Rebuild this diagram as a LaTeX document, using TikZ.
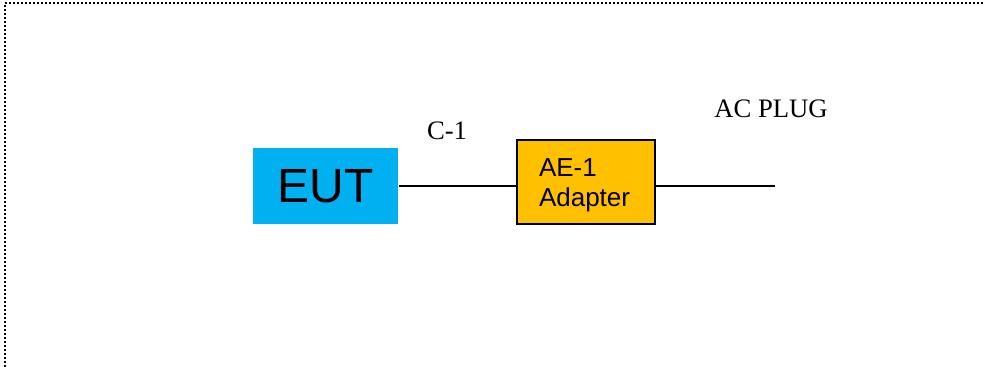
\documentclass[tikz,border=0pt]{standalone}
\usepackage{fontspec}
\setmainfont{Liberation Serif}
\setsansfont{Liberation Sans}
\usepackage{xcolor}
\usetikzlibrary{positioning, calc}
\definecolor{eutblue}{HTML}{00B0F0}
\definecolor{aegold}{HTML}{FFC000}

\begin{document}
\begin{tikzpicture}[
    x=0.75pt, y=-0.75pt,
    line width=1.1pt,
    box/.style={
        rectangle, inner sep=0pt,
        font=\sffamily
    },
    eutbox/.style={box, fill=eutblue, minimum width=108.75pt, minimum height=56.25pt,
        font=\sffamily\fontsize{36}{40}\selectfont},
    aebox/.style={box, fill=aegold, draw=black, line width=1pt,
        minimum width=103.5pt, minimum height=63pt,
        text width=70.5pt, inner xsep=16.5pt, align=left,
        font=\sffamily\fontsize{19.5}{22.5}\selectfont},
    cable/.style={line width=1.1pt},
    lbl/.style={font=\fontsize{20}{24}\selectfont, anchor=base},
    frame/.style={line width=1.5pt, dash pattern=on 1.5pt off 1.5pt}
]

\useasboundingbox (0,0) rectangle (984,367);

% Dotted frame (left and top only)
\draw[frame] (4.5,367) -- (4.5,3) -- (984,3);

% Boxes
\node[eutbox] (eut) at (325.5,186) {EUT};
\node[aebox]  (ae)  at (586,182)   {\rule{0pt}{19pt}AE-1\\Adapter};
\coordinate (plug) at (775,186);

% Cables
\draw[cable] (eut.east) -- (eut.east -| ae.west);
\draw[cable] (plug -| ae.east) -- (plug);

% Labels
\node[lbl] (c1)  at (447,140) {C-1};
\node[lbl] (acp) at (771,118) {AC PLUG};

\end{tikzpicture}
\end{document}
